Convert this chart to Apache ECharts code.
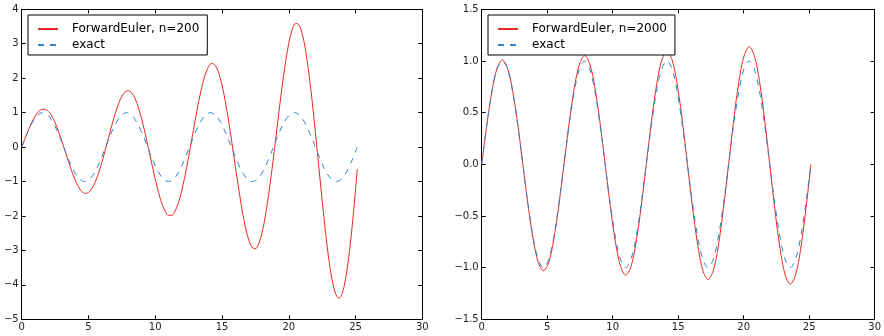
<!DOCTYPE html>
<html>
<head>
<meta charset="utf-8">
<script src="https://cdn.jsdelivr.net/npm/echarts@6/dist/echarts.min.js"></script>
<style>
html,body{margin:0;padding:0;background:#fff;}
#c{width:884px;height:336px;}
</style>
</head>
<body>
<div id="c"></div>
<script>
// Left panel: Forward Euler, n=200 (t, u)
const tFE200 = [0,0.25,0.5,0.75,1,1.25,1.5,1.75,2,2.25,2.5,2.75,3,3.25,3.5,3.75,4,4.25,4.5,4.75,5,5.25,5.5,5.75,6,6.25,6.5,6.75,7,7.25,7.5,7.75,8,8.25,8.5,8.75,9,9.25,9.5,9.75,10,10.25,10.5,10.75,11,11.25,11.5,11.75,12,12.25,12.5,12.75,13,13.25,13.5,13.75,14,14.25,14.5,14.75,15,15.25,15.5,15.75,16,16.25,16.5,16.75,17,17.25,17.5,17.75,18,18.25,18.5,18.75,19,19.25,19.5,19.75,20,20.25,20.5,20.75,21,21.25,21.5,21.75,22,22.25,22.5,22.75,23,23.25,23.5,23.75,24,24.25,24.5,24.75,25,25.133];
const uFE200 = [0,0.250,0.492,0.711,0.893,1.024,1.095,1.099,1.035,0.904,0.711,0.469,0.189,-0.112,-0.415,-0.702,-0.954,-1.153,-1.287,-1.345,-1.319,-1.211,-1.023,-0.764,-0.450,-0.097,0.273,0.637,0.973,1.259,1.474,1.604,1.638,1.569,1.401,1.138,0.797,0.394,-0.046,-0.498,-0.932,-1.321,-1.641,-1.866,-1.982,-1.978,-1.849,-1.600,-1.243,-0.797,-0.286,0.259,0.804,1.317,1.764,2.113,2.341,2.429,2.368,2.157,1.802,1.325,0.749,0.107,-0.561,-1.216,-1.815,-2.319,-2.693,-2.910,-2.952,-2.810,-2.487,-1.997,-1.367,-0.631,0.167,0.981,1.759,2.451,3.011,3.400,3.588,3.557,3.301,2.831,2.168,1.348,0.417,-0.569,-1.551,-2.467,-3.257,-3.867,-4.254,-4.387,-4.248,-3.838,-3.175,-2.292,-1.236,-0.634];

// Exact solution and Forward Euler n=2000 share this time grid
const tExact = [0,0.393,0.785,1.178,1.571,1.963,2.356,2.749,3.142,3.534,3.927,4.320,4.712,5.105,5.498,5.890,6.283,6.676,7.069,7.461,7.854,8.247,8.639,9.032,9.425,9.817,10.210,10.603,10.996,11.388,11.781,12.174,12.566,12.959,13.352,13.744,14.137,14.530,14.923,15.315,15.708,16.101,16.493,16.886,17.279,17.671,18.064,18.457,18.850,19.242,19.635,20.028,20.420,20.813,21.206,21.598,21.991,22.384,22.777,23.169,23.562,23.955,24.347,24.740,25.133];
const uExact = [0,0.383,0.707,0.924,1,0.924,0.707,0.383,0,-0.383,-0.707,-0.924,-1,-0.924,-0.707,-0.383,
  0,0.383,0.707,0.924,1,0.924,0.707,0.383,0,-0.383,-0.707,-0.924,-1,-0.924,-0.707,-0.383,
  0,0.383,0.707,0.924,1,0.924,0.707,0.383,0,-0.383,-0.707,-0.924,-1,-0.924,-0.707,-0.383,
  0,0.383,0.707,0.924,1,0.924,0.707,0.383,0,-0.383,-0.707,-0.924,-1,-0.924,-0.707,-0.383,0];
const uFE2000 = [0,0.384,0.711,0.931,1.010,0.935,0.718,0.390,0,-0.392,-0.725,-0.949,-1.030,-0.954,-0.732,-0.397,
  0,0.399,0.739,0.968,1.051,0.973,0.746,0.405,0,-0.407,-0.754,-0.988,-1.072,-0.993,-0.761,-0.413,
  0,0.415,0.769,1.007,1.093,1.012,0.777,0.422,0,-0.424,-0.784,-1.027,-1.115,-1.032,-0.792,-0.430,
  0,0.432,0.800,1.048,1.137,1.053,0.808,0.439,0,-0.441,-0.816,-1.069,-1.160,-1.074,-0.824,-0.447,0];

const nameFE200 = 'ForwardEuler, n=200';
const nameFE2000 = 'ForwardEuler, n=2000';
const nameExact = 'exact';

const xRange = {min: 0, max: 30, interval: 5};
const yRangeL = {min: -5, max: 4, interval: 1};
const yRangeR = {min: -1.5, max: 1.5, interval: 0.5};

const RED = '#ea2a22';
const BLUE = '#3282d0';
const FONT = 'DejaVu Sans';

function pairs(t, u) { return t.map((x, i) => [x, u[i]]); }
function minus(s) { return String(s).replace('-', '\u2212'); }

const lineAxisCommon = {
  axisLine: {show: true, onZero: false, lineStyle: {color: '#000', width: 1}},
  axisTick: {show: true, inside: true, length: 4, lineStyle: {color: '#000', width: 1}},
  splitLine: {show: false}
};

function xAx(grid, pos, labels) {
  return Object.assign({type: 'value', gridIndex: grid, position: pos}, xRange, lineAxisCommon, {
    axisLabel: {show: labels, margin: 3, fontFamily: FONT, fontSize: 10, color: '#222', formatter: v => minus(v)}
  });
}
function yAx(grid, pos, labels, range, fmt) {
  return Object.assign({type: 'value', gridIndex: grid, position: pos}, range, lineAxisCommon, {
    axisLabel: {show: labels, margin: 3, fontFamily: FONT, fontSize: 10, color: '#222', formatter: fmt}
  });
}

function legend(left, names) {
  return {
    orient: 'vertical', left: left, top: 15,
    data: names,
    padding: [8, 8, 4, 9],
    itemWidth: 20, itemHeight: 14, itemGap: 4,
    borderColor: '#000', borderWidth: 1, borderRadius: 0,
    backgroundColor: '#fff',
    selectedMode: false,
    itemStyle: {color: 'rgba(0,0,0,0)', borderColor: 'rgba(0,0,0,0)', borderWidth: 0},
    textStyle: {fontFamily: FONT, fontSize: 12, color: '#000', padding: [0, 0, 0, 9]}
  };
}

function lineSeries(name, xi, yi, data, color, dashed) {
  return {
    name: name, type: 'line', xAxisIndex: xi, yAxisIndex: yi,
    data: data, showSymbol: false, symbol: 'none', smooth: 0.33,
    lineStyle: {color: color, width: 1, type: dashed ? [6, 6] : 'solid'},
    itemStyle: {color: color},
    silent: true
  };
}

const chart = echarts.init(document.getElementById('c'), null, {renderer: 'canvas'});
chart.setOption({
  animation: false,
  backgroundColor: '#fff',
  grid: [
    {left: 21.7, right: 461.7, top: 9.3, bottom: 16.7},
    {left: 481.7, right: 1.7, top: 9.3, bottom: 16.7}
  ],
  xAxis: [xAx(0, 'bottom', true), xAx(0, 'top', false), xAx(1, 'bottom', true), xAx(1, 'top', false)],
  yAxis: [
    yAx(0, 'left', true, yRangeL, v => minus(v)),
    yAx(0, 'right', false, yRangeL, v => minus(v)),
    yAx(1, 'left', true, yRangeR, v => minus(v.toFixed(1))),
    yAx(1, 'right', false, yRangeR, v => minus(v.toFixed(1)))
  ],
  legend: [legend(28, [nameFE200, nameExact]), legend(488, [nameFE2000, nameExact])],
  series: [
    lineSeries(nameFE200, 0, 0, pairs(tFE200, uFE200), RED, false),
    lineSeries(nameExact, 0, 0, pairs(tExact, uExact), BLUE, true),
    lineSeries(nameFE2000, 2, 2, pairs(tExact, uFE2000), RED, false),
    lineSeries(nameExact, 2, 2, pairs(tExact, uExact), BLUE, true)
  ]
});
</script>
</body>
</html>
